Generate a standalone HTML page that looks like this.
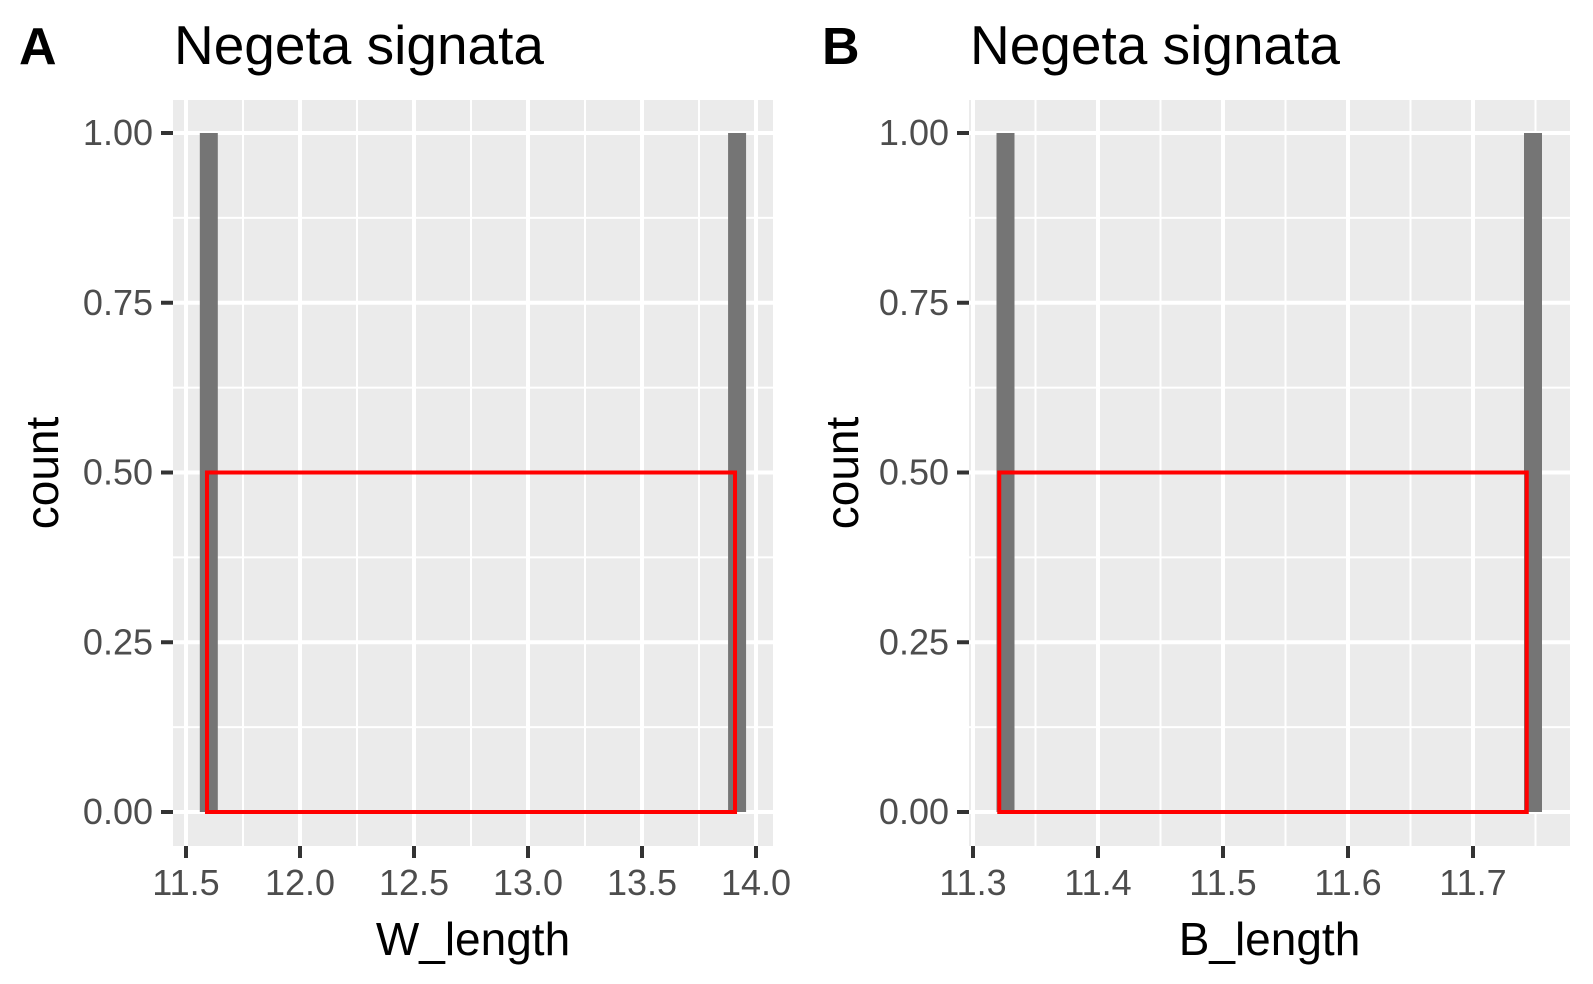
<!DOCTYPE html>
<html><head><meta charset="utf-8"><style>
html,body{margin:0;padding:0;background:#fff;}
svg{display:block;font-family:"Liberation Sans",Arial,sans-serif;}
</style></head><body>
<svg id="chart" width="1593" height="984" xmlns="http://www.w3.org/2000/svg"></svg>
<script>
const yTicks = [0, 0.25, 0.5, 0.75, 1];
const yTickLabels = ["0.00","0.25","0.50","0.75","1.00"];
const aXTicks = [11.5, 12.0, 12.5, 13.0, 13.5, 14.0];
const aXTickLabels = ["11.5","12.0","12.5","13.0","13.5","14.0"];
const aBarCenters = [11.6, 13.917];
const aBarCounts = [1, 1];
const aRect = [11.592, 13.908, 0.5];
const bXTicks = [11.3, 11.4, 11.5, 11.6, 11.7];
const bXTickLabels = ["11.3","11.4","11.5","11.6","11.7"];
const bBarCenters = [11.326, 11.748];
const bBarCounts = [1, 1];
const bRect = [11.321, 11.743, 0.5];

const NS = "http://www.w3.org/2000/svg";
const svg = document.getElementById("chart");
function mk(tag, attrs, parent, text){
  const e = document.createElementNS(NS, tag);
  for (const k in attrs) e.setAttribute(k, attrs[k]);
  if (text !== undefined) e.textContent = text;
  (parent || svg).appendChild(e);
  return e;
}
function panel(o){
  const g = mk("g", {});
  
  
  const L=o.left, R=o.right, T=100, B=846;
  const yS = v => 812 - v*679;
  const xS = v => o.x0px + (v - o.x0)*o.pxPer;
  const bg = mk("rect",{x:L,y:T,width:R-L,height:B-T,fill:"#ebebeb"},g);
  
  
  for (let i=0;i<yTicks.length-1;i++){
    const v=(yTicks[i]+yTicks[i+1])/2;
    mk("line",{x1:L,x2:R,y1:yS(v),y2:yS(v),stroke:"#fff","stroke-width":2},g);
  }
  const xt=o.xTicks, step=xt[1]-xt[0];
  for (let v=xt[0]-step/2; v<=xt[xt.length-1]+step; v+=step){
    const px=xS(v); if(px>L && px<R) mk("line",{x1:px,x2:px,y1:T,y2:B,stroke:"#fff","stroke-width":2},g);
  }
  yTicks.forEach(v=>mk("line",{x1:L,x2:R,y1:yS(v),y2:yS(v),stroke:"#fff","stroke-width":4},g));
  xt.forEach(v=>mk("line",{x1:xS(v),x2:xS(v),y1:T,y2:B,stroke:"#fff","stroke-width":4},g));
  o.centers.forEach((c,i)=>{
    const r=mk("rect",{x:xS(c)-9,y:yS(o.counts[i]),width:18,height:yS(0)-yS(o.counts[i]),fill:"#757575"},g);
    
    
  });
  const rr=mk("rect",{x:xS(o.rect[0]),y:yS(o.rect[2]),width:xS(o.rect[1])-xS(o.rect[0]),height:yS(0)-yS(o.rect[2]),fill:"none",stroke:"#ff0000","stroke-width":4},g);
  
  
  yTicks.forEach((v,i)=>{
    mk("line",{x1:L-12,x2:L,y1:yS(v),y2:yS(v),stroke:"#333","stroke-width":4},g);
    const t=mk("text",{x:L-20,y:yS(v)+12,"text-anchor":"end","font-size":36,fill:"#4d4d4d"},g,yTickLabels[i]);
    
    
  });
  xt.forEach((v,i)=>{
    mk("line",{x1:xS(v),x2:xS(v),y1:B,y2:B+12,stroke:"#333","stroke-width":4},g);
    const t=mk("text",{x:xS(v),y:B+49,"text-anchor":"middle","font-size":36,fill:"#4d4d4d"},g,o.xLabels[i]);
    
    
  });
  const xl=mk("text",{x:(L+R)/2,y:955,"text-anchor":"middle","font-size":46,fill:"#000"},g,o.xTitle);
  
  
  const yl=mk("text",{x:0,y:0,"text-anchor":"middle","font-size":46,fill:"#000",transform:`translate(${o.yTitleX},${(T+B)/2}) rotate(-90)`},g,"count");
  
  
  const tag=mk("text",{x:o.tagX,y:64,"font-size":52,"font-weight":"bold",fill:"#000"},g,o.tag);
  
  
  const ti=mk("text",{x:o.titleX,y:64,"font-size":55,fill:"#000"},g,"Negeta signata");
  
  
}
panel({name:"panel-a",left:173,right:773,x0:11.5,x0px:186,pxPer:228,xTicks:aXTicks,xLabels:aXTickLabels,centers:aBarCenters,counts:aBarCounts,rect:aRect,xTitle:"W_length",yTitleX:58,tag:"A",tagX:19,titleX:174});
panel({name:"panel-b",left:969,right:1570,x0:11.3,x0px:973,pxPer:1250,xTicks:bXTicks,xLabels:bXTickLabels,centers:bBarCenters,counts:bBarCounts,rect:bRect,xTitle:"B_length",yTitleX:858,tag:"B",tagX:822,titleX:970});
</script>
</body></html>
